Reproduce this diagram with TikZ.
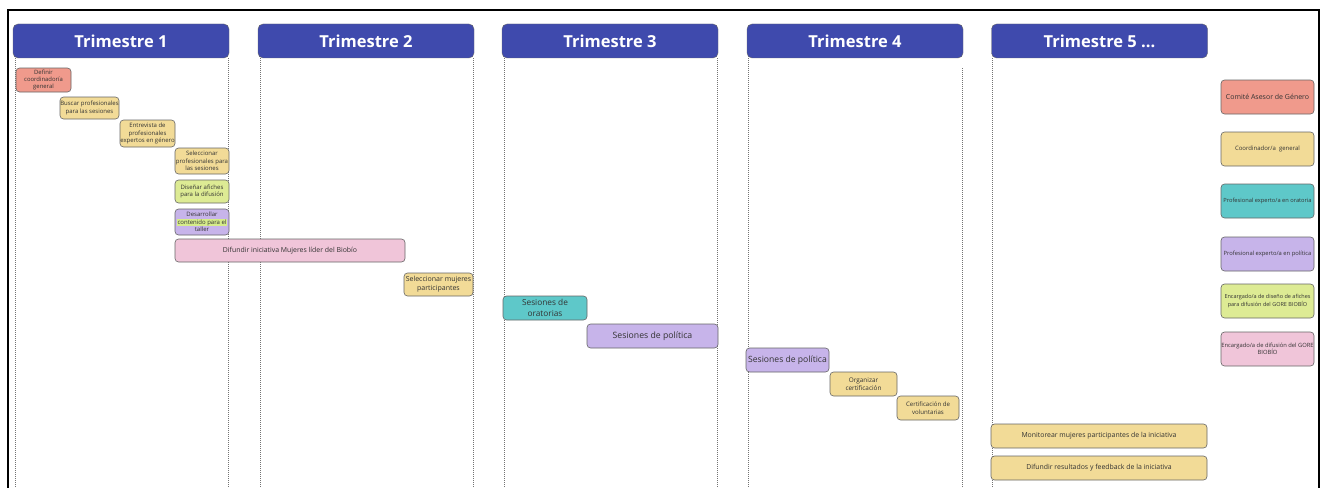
\documentclass[tikz,border=0pt]{standalone}
\usepackage{fontspec}
\setmainfont{Open Sans}
\usepackage{tikz}
\definecolor{triblue}{HTML}{3F4AAD}
\definecolor{tred}{HTML}{F09A8C}
\definecolor{tyellow}{HTML}{F2DB97}
\definecolor{tgreen}{HTML}{DDEB94}
\definecolor{tpurple}{HTML}{C7B4EA}
\definecolor{tteal}{HTML}{5EC8C9}
\definecolor{tpink}{HTML}{F0C5D9}
\definecolor{hlgreen}{HTML}{D6EC8A}

\begin{document}
\begin{tikzpicture}[x=1pt,y=-1pt,
  trim/.style={draw=black!60, fill=triblue, rounded corners=5pt, minimum width=216pt,
    minimum height=34pt, text=white, font=\fontsize{16.5}{18}\bfseries\selectfont},
  task/.style={draw=black!60, rounded corners=3.5pt, align=center, inner sep=0pt,
    text=black!80, line width=0.6pt},
  leg/.style={task, minimum width=93pt, minimum height=34pt},
  sep/.style={black!55, line width=0.5pt, dash pattern=on 1pt off 1pt}]
  \useasboundingbox (0,0) rectangle (1324,487);
  \draw[line width=1.8pt] (8,488) -- (8,10) -- (1319,10) -- (1319,488);
  \node[trim] (t1) at (121,41) {Trimestre 1};
  \node[trim] (t2) at (366,41) {Trimestre 2};
  \node[trim] (t3) at (610,41) {Trimestre 3};
  \node[trim] (t4) at (855,41) {Trimestre 4};
  \node[trim] (t5) at (1099.5,41) {Trimestre 5 ...};
  \draw[sep] ([xshift=2pt]t1.south west) -- ++(0,430);
  \draw[sep] ([xshift=-1pt]t1.south east) -- ++(0,430);
  \draw[sep] ([xshift=2pt]t2.south west) -- ++(0,430);
  \draw[sep] ([xshift=-1pt]t2.south east) -- ++(0,430);
  \draw[sep] ([xshift=2pt]t3.south west) -- ++(0,430);
  \draw[sep] ([xshift=-1pt]t3.south east) -- ++(0,430);
  \draw[sep] ([xshift=1pt]t4.south west) -- ++(0,430);
  \draw[sep] ([xshift=-1pt,yshift=-10pt]t4.south east) -- ++(0,420);
  \draw[sep] ([xshift=1pt]t5.south west) -- ++(0,430);
  \node[task, fill=tred, minimum width=55pt, minimum height=24pt,
    font=\fontsize{5.9}{7}\selectfont] (defcoord) at (43.5,80)
    {Definir\\coordinadoría\\general};
  \node[task, fill=tyellow, minimum width=59pt, minimum height=22pt,
    font=\fontsize{6}{7.5}\selectfont] (buscar) at (89.5,108)
    {Buscar profesionales\\para las sesiones};
  \node[task, fill=tyellow, minimum width=55pt, minimum height=27pt,
    font=\fontsize{6}{7.7}\selectfont] (entrev) at (147.5,133.5)
    {Entrevista de\\profesionales\\expertos en género};
  \node[task, fill=tyellow, minimum width=54pt, minimum height=26pt,
    font=\fontsize{6}{7.7}\selectfont] (selprof) at (202,161)
    {Seleccionar\\profesionales para\\las sesiones};
  \node[task, fill=tgreen, minimum width=54pt, minimum height=23pt,
    font=\fontsize{6}{7.7}\selectfont] (disenar) at (202,191.5)
    {Diseñar afiches\\para la difusión};
  \node[task, fill=tpurple, minimum width=54pt, minimum height=26pt,
    font=\fontsize{6}{7.7}\selectfont] (desarr) at (202,222)
    {Desarrollar\\{\setlength{\fboxsep}{0.6pt}\colorbox{hlgreen}{contenido para el}}\\taller};
  \node[task, fill=tpink, minimum width=230pt, minimum height=23pt,
    font=\fontsize{6.9}{8}\selectfont] (difund) at (290,250.5)
    {Difundir iniciativa Mujeres líder del Biobío};
  \node[task, fill=tyellow, minimum width=69pt, minimum height=23pt,
    font=\fontsize{7}{8.8}\selectfont] (selmuj) at (438.5,284.5)
    {Seleccionar mujeres\\participantes};
  \node[task, fill=tteal, minimum width=84pt, minimum height=24pt,
    font=\fontsize{8.3}{10.5}\selectfont] (oratoria) at (545,308)
    {Sesiones de\\oratorias};
  \node[task, fill=tpurple, minimum width=131pt, minimum height=24pt,
    font=\fontsize{8.7}{10}\selectfont] (polit) at (652.5,336)
    {Sesiones de política};
  \node[task, fill=tpurple, minimum width=83pt, minimum height=24pt,
    font=\fontsize{8.6}{10}\selectfont] (politb) at (787.5,360)
    {Sesiones de política};
  \node[task, fill=tyellow, minimum width=67pt, minimum height=24pt,
    font=\fontsize{6.4}{8.3}\selectfont] (organiz) at (863.5,384)
    {Organizar\\certificación};
  \node[task, fill=tyellow, minimum width=62pt, minimum height=24pt,
    font=\fontsize{6.1}{8.3}\selectfont] (certif) at (928,408)
    {Certificación de\\voluntarias};
  \node[task, fill=tyellow, minimum width=216pt, minimum height=24pt,
    font=\fontsize{6.9}{8}\selectfont] (monit) at (1099,436)
    {Monitorear mujeres participantes de la iniciativa};
  \node[task, fill=tyellow, minimum width=216pt, minimum height=24pt,
    font=\fontsize{6.9}{8}\selectfont] (result) at (1099,468)
    {Difundir resultados y feedback de la iniciativa};
  \node[leg, fill=tred, font=\fontsize{7}{8}\selectfont] (lcomite) at (1267.5,97)
    {Comité Asesor de Género};
  \node[leg, fill=tyellow, font=\fontsize{6}{7}\selectfont] (lcoord) at (1267.5,149)
    {Coordinador/a\ \ general};
  \node[leg, fill=tteal, font=\fontsize{5.7}{7}\selectfont] (lorat) at (1267.5,201)
    {Profesional experto/a en oratoria};
  \node[leg, fill=tpurple, font=\fontsize{5.8}{7}\selectfont] (lpolit) at (1267.5,254)
    {Profesional experto/a en política};
  \node[leg, fill=tgreen, font=\fontsize{5.5}{7.5}\selectfont] (ldisen) at (1267.5,301)
    {Encargado/a de diseño de afiches\\para difusión del GORE BIOBÍO};
  \node[leg, fill=tpink, font=\fontsize{5.8}{7.5}\selectfont] (ldifus) at (1267.5,349)
    {Encargado/a de difusión del GORE\\BIOBÍO};
\end{tikzpicture}
\end{document}
